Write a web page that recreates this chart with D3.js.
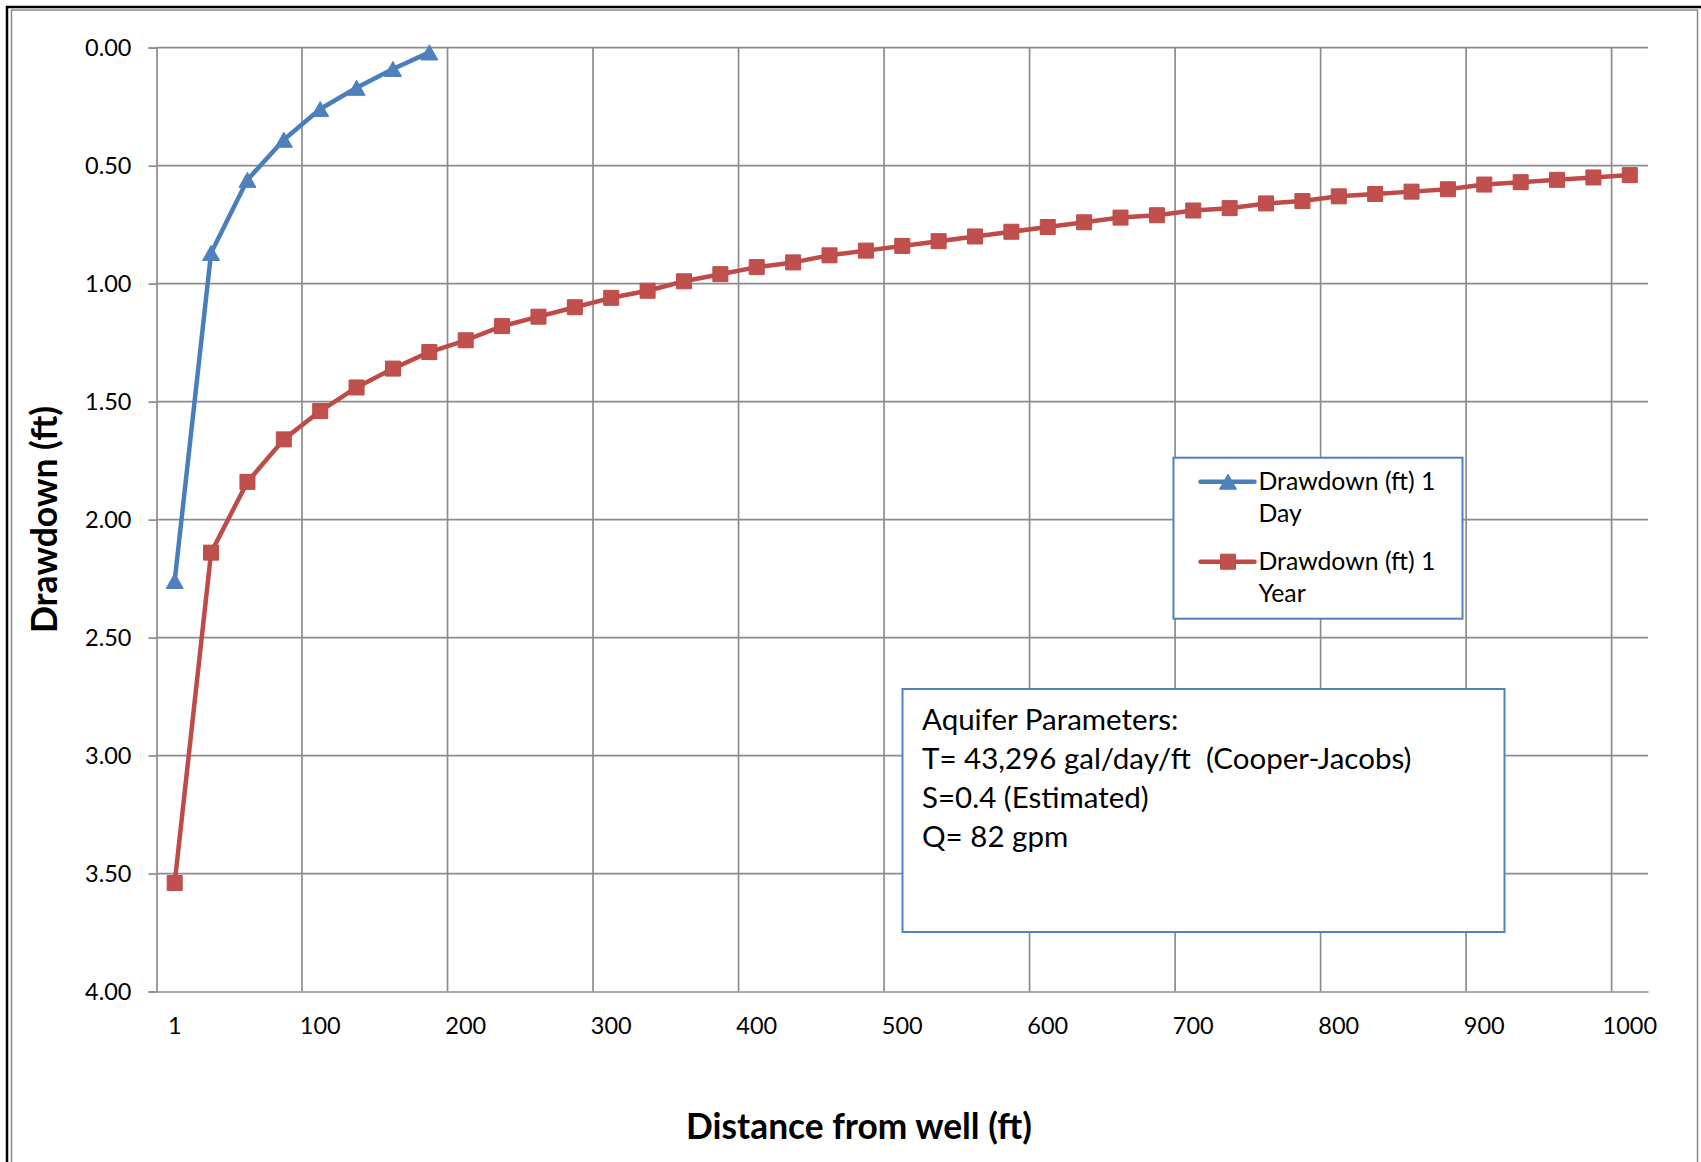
<!DOCTYPE html>
<html>
<head>
<meta charset="utf-8">
<script src="https://cdn.jsdelivr.net/npm/d3@7"></script>
<style>
  html, body { margin: 0; padding: 0; background: #fff; }
  svg { display: block; font-family: Lato, "Open Sans", sans-serif; }
</style>
</head>
<body>
<div id="container"></div>
<script>
"use strict";

// distance from well (ft), one category every 25 ft
const distances = [1, 25, 50, 75, 100, 125, 150, 175, 200, 225, 250, 275, 300, 325, 350,
  375, 400, 425, 450, 475, 500, 525, 550, 575, 600, 625, 650, 675, 700, 725, 750,
  775, 800, 825, 850, 875, 900, 925, 950, 975, 1000];

// drawdown after 1 day (only the first 8 distances)
const drawdownDay = [2.26, 0.87, 0.56, 0.39, 0.26, 0.17, 0.09, 0.02];

// drawdown after 1 year
const drawdownYear = [3.54, 2.14, 1.84, 1.66, 1.54, 1.44, 1.36, 1.29, 1.24, 1.18, 1.14,
  1.10, 1.06, 1.03, 0.99, 0.96, 0.93, 0.91, 0.88, 0.86, 0.84, 0.82, 0.80, 0.78, 0.76,
  0.74, 0.72, 0.71, 0.69, 0.68, 0.66, 0.65, 0.63, 0.62, 0.61, 0.60, 0.58, 0.57, 0.56,
  0.55, 0.54];

const xLabels = [1, 100, 200, 300, 400, 500, 600, 700, 800, 900, 1000];
const yTicks = [0, 0.5, 1, 1.5, 2, 2.5, 3, 3.5, 4];

const seriesNames = ["Drawdown (ft) 1 Day", "Drawdown (ft) 1 Year"];
const noteLines = [
  "Aquifer Parameters:",
  "T= 43,296 gal/day/ft  (Cooper-Jacobs)",
  "S=0.4 (Estimated)",
  "Q= 82 gpm"
];

const width = 1701;
const height = 1162;
const plot = { left: 156.5, right: 1648, top: 47.7, bottom: 991.5 };

const gridColor = "#8c8c8c";
const blueLine = "#4a7ebb", blueFill = "#4f81bd";
const redLine = "#be4b48", redFill = "#c0504d";

const svg = d3.select("#container")
  .append("svg")
  .attr("width", width)
  .attr("height", height);

// outer frame
svg.append("path")
  .attr("d", `M7,${height} L7,7 L${width},7`)
  .attr("fill", "none")
  .attr("stroke", "#000")
  .attr("stroke-width", 2.5);
svg.append("path")
  .attr("d", `M11.5,${height} L11.5,10 L1697.5,10 L1697.5,${height}`)
  .attr("fill", "none")
  .attr("stroke", "#8a8a8a")
  .attr("stroke-width", 1.5);

const x = d3.scaleBand()
  .domain(distances)
  .range([plot.left, plot.right])
  .padding(0);
const cx = (d) => x(d) + x.bandwidth() / 2;

const y = d3.scaleLinear()
  .domain([0, 4])
  .range([plot.top, plot.bottom]);

// horizontal gridlines
svg.append("g")
  .selectAll("line")
  .data(yTicks.slice(0, -1))
  .enter()
  .append("line")
  .attr("x1", plot.left)
  .attr("x2", plot.right)
  .attr("y1", (d) => y(d))
  .attr("y2", (d) => y(d))
  .attr("stroke", gridColor)
  .attr("stroke-width", 1.7);

// vertical gridlines every 4 categories
svg.append("g")
  .selectAll("line")
  .data(distances.filter((d, i) => i > 0 && i % 4 === 0))
  .enter()
  .append("line")
  .attr("x1", (d) => x(d))
  .attr("x2", (d) => x(d))
  .attr("y1", plot.top)
  .attr("y2", plot.bottom)
  .attr("stroke", gridColor)
  .attr("stroke-width", 1.7);

// y axis
const yAxis = svg.append("g")
  .attr("transform", `translate(${plot.left},0)`)
  .call(d3.axisLeft(y).tickValues(yTicks).tickSize(8).tickPadding(17)
    .tickFormat(d3.format(".2f")));
yAxis.select(".domain").attr("stroke", gridColor).attr("stroke-width", 1.7);
yAxis.selectAll(".tick line").attr("stroke", gridColor).attr("stroke-width", 1.7);
yAxis.selectAll(".tick text")
  .attr("fill", "#000")
  .style("font-size", "23.5px")
  .style("font-family", "Lato");

// x axis
const xAxis = svg.append("g")
  .attr("transform", `translate(0,${plot.bottom})`)
  .call(d3.axisBottom(x).tickValues(xLabels).tickSize(0).tickPadding(26));
xAxis.select(".domain").attr("stroke", gridColor).attr("stroke-width", 1.7);
xAxis.selectAll(".tick text")
  .attr("fill", "#000")
  .style("font-size", "23.5px")
  .style("font-family", "Lato");

// axis titles
svg.append("text")
  .attr("transform", "translate(57,519.5) rotate(-90)")
  .attr("text-anchor", "middle")
  .style("font-size", "35.5px")
  .style("font-weight", "bold")
  .text("Drawdown (ft)");

svg.append("text")
  .attr("x", 859)
  .attr("y", 1139)
  .attr("text-anchor", "middle")
  .style("font-size", "35.3px")
  .style("font-weight", "bold")
  .text("Distance from well (ft)");

const triangle = (w, h) => `M0,${-h / 2} L${w / 2},${h / 2} L${-w / 2},${h / 2} Z`;
const square = (s) => `M${-s / 2},${-s / 2} h${s} v${s} h${-s} Z`;

const line = d3.line()
  .x((d) => cx(d.dist))
  .y((d) => y(d.value));

const daySeries = drawdownDay.map((v, i) => ({ dist: distances[i], value: v }));
const yearSeries = drawdownYear.map((v, i) => ({ dist: distances[i], value: v }));

// 1 year series
svg.append("path")
  .datum(yearSeries)
  .attr("d", line)
  .attr("fill", "none")
  .attr("stroke", redLine)
  .attr("stroke-width", 4.5)
  .attr("stroke-linejoin", "round");
svg.append("g")
  .selectAll("path")
  .data(yearSeries)
  .enter()
  .append("path")
  .attr("d", square(15))
  .attr("transform", (d) => `translate(${cx(d.dist)},${y(d.value)})`)
  .attr("fill", redFill)
  .attr("stroke", redLine)
  .attr("stroke-width", 1);

// 1 day series
svg.append("path")
  .datum(daySeries)
  .attr("d", line)
  .attr("fill", "none")
  .attr("stroke", blueLine)
  .attr("stroke-width", 4.5)
  .attr("stroke-linejoin", "round");
svg.append("g")
  .selectAll("path")
  .data(daySeries)
  .enter()
  .append("path")
  .attr("d", triangle(17, 15))
  .attr("transform", (d) => `translate(${cx(d.dist)},${y(d.value)})`)
  .attr("fill", blueFill)
  .attr("stroke", blueLine)
  .attr("stroke-width", 1);

// legend
const legend = svg.append("g").attr("transform", "translate(1173.5,457.7)");
legend.append("rect")
  .attr("width", 289)
  .attr("height", 161)
  .attr("fill", "#fff")
  .attr("stroke", blueFill)
  .attr("stroke-width", 2);

const legendItems = [
  { name: seriesNames[0], line: blueLine, fill: blueFill, shape: triangle(17, 15), y: 24 },
  { name: seriesNames[1], line: redLine, fill: redFill, shape: square(15), y: 104 }
];
legendItems.forEach((item) => {
  const g = legend.append("g").attr("transform", `translate(0,${item.y})`);
  g.append("line")
    .attr("x1", 27).attr("x2", 81)
    .attr("stroke", item.line)
    .attr("stroke-width", 4.5)
    .attr("stroke-linecap", "round");
  g.append("path")
    .attr("d", item.shape)
    .attr("transform", "translate(54.5,0)")
    .attr("fill", item.fill)
    .attr("stroke", item.line);
  const words = item.name.split(" ");
  const t = g.append("text")
    .attr("x", 85)
    .attr("y", 8.5)
    .style("font-size", "24.8px");
  t.append("tspan").attr("x", 85).text(words.slice(0, -1).join(" "));
  t.append("tspan").attr("x", 85).attr("dy", 32).text(words[words.length - 1]);
});

// aquifer note box
const note = svg.append("g").attr("transform", "translate(902.5,689)");
note.append("rect")
  .attr("width", 602)
  .attr("height", 243)
  .attr("fill", "#fff")
  .attr("stroke", blueFill)
  .attr("stroke-width", 2);
note.selectAll("text")
  .data(noteLines)
  .enter()
  .append("text")
  .attr("x", 19.5)
  .attr("y", (d, i) => 40.5 + i * 39)
  .style("font-size", "29.5px")
  .style("white-space", "pre")
  .text((d) => d);
</script>
</body>
</html>
